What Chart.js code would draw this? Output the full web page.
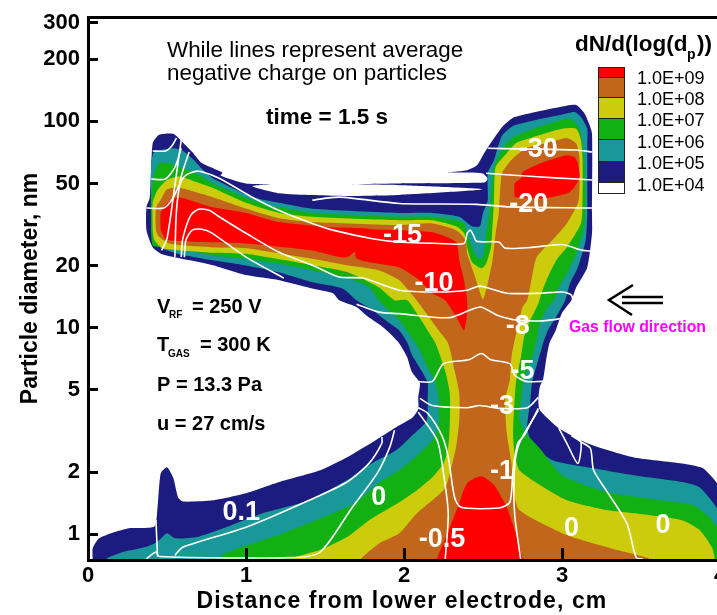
<!DOCTYPE html>
<html>
<head>
<meta charset="utf-8">
<style>
html, body { margin: 0; padding: 0; background: #fff; overflow: hidden; width: 717px; height: 615px; }
canvas { display: block; }
</style>
<script src="https://cdn.jsdelivr.net/npm/chart.js@4"></script>
</head>
<body>
<canvas id="myChart" width="725" height="615"></canvas>
<script>
// contour bands, [distance cm, diameter nm]
const navyBand = [[.03,.74],[.03,.855],[.07,.955],[.16,1.02],[.26,1.07],[.42,1.09],[.44,1.35],[.46,1.97],[.50,2.11],[.54,1.87],[.57,1.51],[.60,1.44],[.79,1.46],[1.0,1.58],[1.21,1.79],[1.47,2.04],[1.64,2.36],[1.80,2.79],[1.95,3.3],[2.05,3.65],[2.09,4.03],[2.09,4.6],[2.10,5.4],[2.05,6.1],[2.02,7.2],[1.97,8.4],[1.91,9.4],[1.85,10.3],[1.76,11.5],[1.70,12.6],[1.59,13.6],[1.55,14.7],[1.42,15.5],[1.21,17],[1.0,18],[.79,20.1],[.58,21.7],[.47,22.7],[.41,24.5],[.37,29.7],[.37,38.5],[.39,42.4],[.40,59.9],[.41,78.5],[.45,86],[.54,87],[.60,79],[.66,71],[.72,62.8],[.85,56.5],[.84,54.5],[1.0,50],[1.16,49.5],[1.04,48.5],[1.21,44.8],[1.42,43.9],[1.62,43.5],[1.97,44],[2.50,46.8],[1.97,49],[1.64,49.5],[1.97,50],[2.51,50.5],[2.53,52.5],[2.50,55.8],[2.40,56.5],[2.27,56.5],[2.40,58],[2.46,61],[2.50,68.5],[2.52,72.6],[2.62,93.5],[2.69,104],[2.81,110],[2.98,117],[3.09,120],[3.14,110],[3.17,98],[3.19,87],[3.19,36],[3.19,28.7],[3.16,19.6],[3.09,15.7],[3.06,13.6],[3.0,11.8],[2.96,9.7],[2.92,8.4],[2.90,7],[2.88,5.6],[2.86,5.2],[2.85,4.45],[2.86,3.98],[2.98,3.26],[3.16,2.76],[3.45,2.36],[3.76,2.2],[3.89,2.09],[3.98,1.77],[4.03,1.46],[4.03,.74]];
const tealBand = [[.12,.74],[.12,.765],[.22,.82],[.37,.87],[.44,.92],[.50,1.01],[.55,.955],[.69,.97],[.90,1.10],[1.10,1.26],[1.40,1.46],[1.64,1.83],[1.80,2.21],[1.95,2.55],[2.05,3.0],[2.14,3.5],[2.15,3.9],[2.15,4.6],[2.15,5.4],[2.11,6.2],[2.05,7.4],[2.02,8.5],[1.97,9.7],[1.91,10.5],[1.80,12.2],[1.70,13.6],[1.61,15.5],[1.42,16.6],[1.21,18.5],[1.0,20],[.79,21.2],[.58,22.7],[.47,24.2],[.42,26.6],[.40,29.7],[.40,63],[.42,71],[.54,74],[.60,72],[.66,66],[.72,59],[.79,53],[1.04,43],[1.21,40.3],[1.42,37.7],[1.97,36],[2.18,36],[2.35,34.5],[2.43,31],[2.48,31],[2.50,36],[2.53,41.5],[2.53,56],[2.57,65],[2.62,85],[2.69,95],[2.82,101],[2.98,107],[3.08,111],[3.12,105],[3.16,92],[3.16,78],[3.16,36],[3.15,26.6],[3.10,19.6],[3.05,16.4],[3.02,13.6],[2.96,11.2],[2.91,9.7],[2.88,8.4],[2.85,7],[2.81,5.4],[2.80,4.45],[2.78,3.3],[2.81,2.76],[2.94,2.28],[3.19,2.09],[3.45,1.93],[3.76,1.79],[3.87,1.69],[3.96,1.41],[4.03,1.15],[4.03,.74]];
const greenBand = [[.83,.74],[.85,.80],[1.25,1.02],[1.48,1.2],[1.70,1.43],[1.84,1.77],[1.97,2.04],[2.10,2.47],[2.19,2.92],[2.22,3.45],[2.22,3.98],[2.22,4.6],[2.20,5.4],[2.15,6.4],[2.10,7.8],[2.03,9.4],[1.97,10.9],[1.91,12],[1.84,13.6],[1.78,15.7],[1.64,17.4],[1.42,19],[1.21,20.4],[1.0,21.6],[.79,22.4],[.58,24.3],[.47,24.5],[.41,25],[.40,28.7],[.40,41.5],[.41,52],[.45,62.5],[.52,62.5],[.58,59.5],[.64,58],[.72,54],[.79,50],[1.04,41.5],[1.21,38.3],[1.42,36],[1.97,34.5],[2.18,34.5],[2.37,32.5],[2.40,28.7],[2.43,24.5],[2.46,22],[2.49,21.6],[2.51,23.7],[2.52,28.7],[2.54,36],[2.57,60],[2.63,75],[2.69,83.5],[2.82,92],[3.05,103],[3.11,92],[3.14,67],[3.15,41.5],[3.14,30.7],[3.09,22.8],[3.05,19.6],[2.98,15.7],[2.95,13.6],[2.91,12.6],[2.86,10.5],[2.84,8.7],[2.81,7.2],[2.76,5.6],[2.74,4.45],[2.73,3.6],[2.77,3.1],[2.86,2.6],[3.0,1.93],[3.28,1.6],[3.62,1.46],[3.83,1.38],[3.93,1.21],[4.03,.95],[4.03,.74]];
const yellowBand = [[1.29,.74],[1.29,.765],[1.47,.84],[1.64,.97],[1.78,1.17],[1.97,1.43],[2.08,1.63],[2.18,1.89],[2.25,2.2],[2.28,2.65],[2.29,3.45],[2.29,4.8],[2.26,6.2],[2.20,8.4],[2.15,9.7],[2.08,11.8],[2.02,13.6],[1.94,13.6],[1.84,15.7],[1.64,18.6],[1.42,20.1],[1.0,22.8],[.79,23.1],[.47,24.3],[.42,26.6],[.41,29.7],[.41,40.5],[.44,46.4],[.50,52],[.58,54],[.69,50.6],[.79,47.5],[1.0,40.3],[1.21,36],[1.42,34.5],[1.97,33.2],[2.18,33.2],[2.33,31],[2.38,28.7],[2.40,24.5],[2.43,20.8],[2.49,19.4],[2.52,20.5],[2.55,24.5],[2.56,31],[2.57,41.5],[2.58,60],[2.65,70],[2.71,78.5],[2.81,83.5],[3.0,92],[3.09,92],[3.12,81],[3.13,65],[3.13,41.5],[3.12,32],[3.03,24.5],[2.97,21.6],[2.91,17.6],[2.87,14.7],[2.85,13.1],[2.79,10.5],[2.76,9],[2.74,7.2],[2.71,5.6],[2.70,4.45],[2.69,3.1],[2.70,2.46],[2.73,2.04],[2.86,1.73],[3.03,1.46],[3.28,1.31],[3.55,1.24],[3.76,1.17],[3.87,1.05],[3.95,.86],[3.97,.74]];
const orangeBand = [[1.73,.74],[1.73,.765],[1.84,.9],[1.97,1.01],[2.08,1.26],[2.18,1.46],[2.26,1.67],[2.29,1.97],[2.33,2.65],[2.35,3.56],[2.35,4.8],[2.32,6.2],[2.28,8.4],[2.22,9.7],[2.14,11.8],[2.08,13.6],[1.97,17],[1.84,19],[1.64,20.1],[1.42,21.6],[1.0,24.3],[.79,24.5],[.52,25.5],[.45,27.6],[.43,29.7],[.43,37.8],[.47,42.9],[.50,46.8],[.58,47.7],[.79,42.9],[1.0,37.8],[1.21,33.9],[1.42,32.5],[1.97,31.4],[2.18,32],[2.33,29.7],[2.39,26.6],[2.40,22.9],[2.45,17.6],[2.48,14.9],[2.50,13.7],[2.53,16.4],[2.56,21.2],[2.58,28.7],[2.60,36],[2.62,56],[2.68,65],[2.77,74],[2.92,79],[3.03,83],[3.09,78],[3.11,67],[3.11,44.8],[3.10,40],[3.03,32],[2.94,26.6],[2.84,22],[2.81,17.6],[2.78,13.6],[2.75,12.6],[2.71,9.4],[2.68,7.2],[2.67,5.6],[2.64,4.45],[2.65,3.1],[2.68,2.21],[2.69,1.69],[2.73,1.31],[3.03,.99],[3.32,.85],[3.55,.765],[3.55,.74]];
const redBottom = [[2.21,.74],[2.21,.765],[2.29,1.08],[2.34,1.35],[2.40,1.77],[2.49,1.91],[2.57,1.73],[2.65,1.35],[2.70,1.05],[2.75,.765],[2.75,.74]];
const redLeftA = [[.46,29.7],[.46,36],[.50,40],[.57,42.9],[.79,38.3],[1.0,36],[1.21,32.5],[1.53,30.7],[1.80,29.7],[1.64,22],[1.42,23.7],[1.0,25.6],[.50,26.6]];
const redLeftB = [[1.70,30],[1.97,29.7],[2.18,29],[2.33,26],[2.35,21.2],[2.38,17],[2.40,13.6],[2.40,11.8],[2.38,9.7],[2.33,11.3],[2.26,13.6],[2.18,14.7],[2.08,17.4],[1.97,19.6],[1.70,21.7]];
const redRight = [[2.75,56.7],[2.86,62.5],[3.03,68.5],[3.08,67],[3.10,62.5],[3.11,53],[3.05,45.5],[2.90,42.5],[2.70,42.9],[2.70,50],[2.74,53]];

// white charge contours
const chargeLines = [
  [[.41,71.8],[.49,71.8],[.53,76],[.56,83]],
  [[.59,81],[.55,49],[.50,27],[.465,23.7]],
  [[.40,52.5],[.49,52.5],[.55,59.9],[.59,74]],
  [[.64,71],[.59,54],[.56,37],[.55,22]],
  [[.37,38],[.48,38],[.53,41.5],[.57,47.7],[.61,54],[.67,57],[.72,57],[.83,53],[1.04,42.9],[1.21,37],[1.42,32],[1.55,29.7],[1.80,27],[1.97,26],[2.22,25.6],[2.38,25.6],[2.40,28.7],[2.42,29.7],[2.44,28],[2.46,26.2],[2.60,26],[2.64,24.3],[2.81,24.5],[3.0,25.3],[3.13,23.7],[3.19,23.5]],
  [[.59,22],[.60,27],[.65,35],[.70,37.5],[.77,37],[.83,34.5],[1.0,28.7],[1.21,23.2],[1.42,20.1],[1.59,17.6],[1.74,17.4],[1.97,15.2],[2.22,14.9],[2.40,15.2],[2.48,15.9],[2.65,14.7],[2.86,14.7],[3.0,14.9],[3.06,14.4],[3.07,13.3]],
  [[.61,22],[.62,26.6],[.66,29.7],[.72,30],[.78,28.9],[1.0,22],[1.24,17.4]],
  [[1.42,41.5],[1.59,42.9],[1.97,40],[2.46,39.6],[2.67,38.5],[3.19,38]],
  [[2.53,74],[2.73,73.5],[3.09,72.6],[3.19,71]],
  [[2.52,56],[2.82,54],[3.09,52.5],[3.19,52]],
  [[1.70,13],[1.84,11.9],[1.97,11.7],[2.29,11.2],[2.48,12.6],[2.59,11.5],[2.71,10.9],[2.88,10.8],[3.03,11.2]],
  [[2.07,5.5],[2.18,5.5],[2.25,6.7],[2.41,7],[2.49,7.5],[2.55,7],[2.67,6.7],[2.70,5.9],[2.77,5.5],[2.88,5.5]],
  [[2.10,4.55],[2.18,4.2],[2.40,4.1],[2.48,4.2],[2.60,4.07],[2.78,4.1],[2.85,4.6]],
  [[2.09,4.1],[2.15,3.85],[2.24,3],[2.28,2.36],[2.32,1.51],[2.36,1.35],[2.60,1.34],[2.67,1.43],[2.69,2.04],[2.72,2.76],[2.76,3],[2.85,4.07]],
  [[2.09,3.9],[2.21,2.85],[2.25,1.97],[2.28,1.26],[2.26,.74]],
  [[2.85,3.98],[2.73,2.76],[2.70,2.11],[2.70,1.26],[2.74,.74]],
  [[2.98,3.26],[3.03,2.76],[3.10,2.2],[3.12,2.8],[3.06,3],[3.12,2.8],[3.18,2.6],[3.20,2.04],[3.28,1.63],[3.41,1.13],[3.47,.77],[3.51,.76]],
  [[.55,.79],[.60,.865],[1.0,1.08],[1.40,1.46],[1.64,1.79],[1.78,2.21],[1.86,2.76],[1.86,2.96]],
  [[.37,.76],[.43,.82],[.45,.78],[1.29,.77],[1.47,.82],[1.67,1.34],[1.83,1.97],[1.91,2.64],[1.94,3.19]],
  [[.43,1.17],[.44,.78]]
];

const chargeText = ["0.1", "0", "0", "0", "-0.5", "-1", "-3", "-5", "-8", "-10", "-15", "-20", "-30"];
const chargeX = [.97, 1.84, 3.06, 3.64, 2.24, 2.62, 2.62, 2.75, 2.72, 2.19, 1.99, 2.79, 2.85];
const chargeY = [1.28, 1.51, 1.07, 1.10, .945, 2.02, 4.17, 6.16, 10.1, 16.4, 28, 39.6, 73];

const yTickValues = [1, 2, 5, 10, 20, 50, 100, 200, 300];
const legendLabels = ["1.0E+09", "1.0E+08", "1.0E+07", "1.0E+06", "1.0E+05", "1.0E+04"];
const legendColors = ["#ff0000", "#c1661a", "#cdcc0c", "#13b013", "#189898", "#1c1c80", "#ffffff"];

// fill:"shape" clips to first..last x, so the path has to start left of everything and end right of it.
// bands resting on the axis get both ends under the axis, where the clip hides the closing line
const underAxis = 0.7;
const axisShape = (band) => {
    const xs = band.map(p => p[0]);
    const path = [[Math.min(...xs), underAxis]].concat(band, [[Math.max(...xs), underAxis]]);
    return path.map(p => ({ x: p[0], y: p[1] }));
};

// loose islands start on their leftmost point, walk round, then run to the rightmost point and
// back (doubled ends keep that run straight); it stays inside the island so it does not show
const loopShape = (band) => {
    let left = 0, right = 0;
    band.forEach((p, i) => {
        if (p[0] < band[left][0]) left = i;
        if (p[0] > band[right][0]) right = i;
    });
    const turned = band.slice(left).concat(band.slice(0, left + 1), [band[left], band[right], band[right]]);
    return turned.map(p => ({ x: p[0], y: p[1] }));
};

const bandSet = (points, color, order) => ({
    data: points,
    showLine: true,
    fill: "shape",
    backgroundColor: color,
    borderWidth: 0,
    pointRadius: 0,
    tension: 0.2,
    order: order
});

const lineSet = (points) => ({
    data: points.map(p => ({ x: p[0], y: p[1] })),
    showLine: true,
    fill: false,
    borderColor: "#ffffff",
    borderWidth: 1.6,
    pointRadius: 0,
    tension: 0.25,
    order: 0
});

const drawText = (ctx, text, x, y, font, color, align) => {
    ctx.font = font;
    ctx.fillStyle = color || "#000";
    ctx.textAlign = align || "left";
    ctx.textBaseline = "middle";
    ctx.fillText(text, x, y);
};

// tick labels may hang past the plot, the scales should not reserve room for that
const noLabelPadding = (scale) => {
    scale.paddingTop = 0;
    scale.paddingBottom = 0;
    scale.paddingLeft = 0;
    scale.paddingRight = 0;
};

const notes = {
    id: "notes",
    afterDatasetsDraw(chart) {
        const ctx = chart.ctx;
        const xs = chart.scales.x;
        const ys = chart.scales.y;
        ctx.save();

        chargeText.forEach((t, i) => {
            drawText(ctx, t, xs.getPixelForValue(chargeX[i]), ys.getPixelForValue(chargeY[i]), "bold 27px 'Liberation Sans'", "#fff", "center");
        });

        const plain = "22.4px 'Liberation Sans'";
        const bold = "bold 20px 'Liberation Sans'";
        drawText(ctx, "While lines represent average", 167, 51, plain);
        drawText(ctx, "negative charge on particles", 167, 74, plain);
        drawText(ctx, "time = 1.5 s", 266, 118, "bold 22.5px 'Liberation Sans'");

        drawText(ctx, "V", 157, 307, bold);
        drawText(ctx, "RF", 169, 315, "bold 10px 'Liberation Sans'");
        drawText(ctx, "= 250 V", 192, 307, bold);
        drawText(ctx, "T", 157, 345, bold);
        drawText(ctx, "GAS", 168, 354, "bold 10px 'Liberation Sans'");
        drawText(ctx, "= 300 K", 200, 345, bold);
        drawText(ctx, "P = 13.3 Pa", 157, 385, bold);
        drawText(ctx, "u = 27 cm/s", 157, 424, bold);

        drawText(ctx, "dN/d(log(d", 575, 45, "bold 22.5px 'Liberation Sans'");
        drawText(ctx, "p", 687, 55, "bold 14px 'Liberation Sans'");
        drawText(ctx, "))", 697, 45, "bold 22.5px 'Liberation Sans'");

        // legend swatches
        const rowEdges = [67, 77, 97, 118, 139, 161, 182, 193];
        legendColors.forEach((c, i) => {
            ctx.fillStyle = c;
            ctx.fillRect(598.5, rowEdges[i], 26, rowEdges[i + 1] - rowEdges[i]);
            ctx.strokeStyle = "#222";
            ctx.lineWidth = 1;
            ctx.strokeRect(598.5, rowEdges[i] + .5, 26, rowEdges[i + 1] - rowEdges[i]);
        });
        const labelRows = [79, 100.5, 121.5, 143, 164, 186];
        legendLabels.forEach((t, i) => {
            drawText(ctx, t, 637, labelRows[i], "18px 'Liberation Sans'");
        });

        // gas flow arrow
        ctx.strokeStyle = "#000";
        ctx.lineWidth = 2.5;
        ctx.beginPath();
        ctx.moveTo(663, 297); ctx.lineTo(622, 297);
        ctx.moveTo(663, 303); ctx.lineTo(622, 303);
        ctx.moveTo(633, 285); ctx.lineTo(609, 300); ctx.lineTo(632, 315);
        ctx.stroke();
        drawText(ctx, "Gas flow direction", 569, 328, "bold 15.8px 'Liberation Sans'", "#ff00ff");

        // x title is letter-spaced in the original
        ctx.letterSpacing = "1.1px";
        drawText(ctx, "Distance from lower electrode, cm", 402, 602, "bold 23px 'Liberation Sans'", "#000", "center");

        ctx.restore();
    }
};

const ctx = document.getElementById("myChart").getContext("2d");

const myChart = new Chart(ctx, {
    type: "scatter",
    data: {
        datasets: [
            bandSet(axisShape(navyBand), legendColors[5], 9),
            bandSet(axisShape(tealBand), legendColors[4], 8),
            bandSet(axisShape(greenBand), legendColors[3], 7),
            bandSet(axisShape(yellowBand), legendColors[2], 6),
            bandSet(axisShape(orangeBand), legendColors[1], 5),
            bandSet(loopShape(redLeftA), legendColors[0], 4),
            bandSet(loopShape(redLeftB), legendColors[0], 3),
            bandSet(loopShape(redRight), legendColors[0], 2),
            bandSet(axisShape(redBottom), legendColors[0], 1)
        ].concat(chargeLines.map(lineSet))
    },
    options: {
        responsive: false,
        animation: false,
        layout: { padding: { top: 17, right: 5, left: 0, bottom: 0 } },
        plugins: { legend: { display: false }, tooltip: { enabled: false } },
        scales: {
            x: {
                type: "linear",
                min: 0,
                max: 4,
                afterFit: (scale) => { scale.height = 55; noLabelPadding(scale); },
                ticks: { stepSize: 1, padding: 15, color: "#000", font: { family: "'Liberation Sans'", size: 22, weight: "bold" }, maxRotation: 0 },
                grid: { drawOnChartArea: false, tickLength: -12, lineWidth: 3, tickWidth: 3, tickColor: "#000", z: 1 },
                border: { display: true, color: "#000", width: 3, z: 1 }
            },
            top: {
                type: "linear",
                position: "top",
                min: 0,
                max: 4,
                afterFit: (scale) => { scale.height = 0; noLabelPadding(scale); },
                ticks: { display: false },
                grid: { display: false },
                border: { display: true, color: "#000", width: 3, z: 1 }
            },
            y: {
                type: "logarithmic",
                min: .75,
                max: 320,
                afterFit: (scale) => { scale.width = 88; noLabelPadding(scale); },
                afterBuildTicks: (scale) => { scale.ticks = yTickValues.map(v => ({ value: v })); },
                ticks: { autoSkip: false, padding: 18, color: "#000", font: { family: "'Liberation Sans'", size: 22, weight: "bold" }, callback: (v) => String(v) },
                grid: { drawOnChartArea: false, tickLength: -10, lineWidth: 3, tickWidth: 3, tickColor: "#000", z: 1 },
                border: { display: true, color: "#000", width: 3, z: 1 },
                title: { display: true, text: "Particle diameter, nm", color: "#000", font: { family: "'Liberation Sans'", size: 23, weight: "bold" }, padding: { top: 17, bottom: 0 } }
            }
        }
    },
    plugins: [notes]
});
</script>
</body>
</html>
